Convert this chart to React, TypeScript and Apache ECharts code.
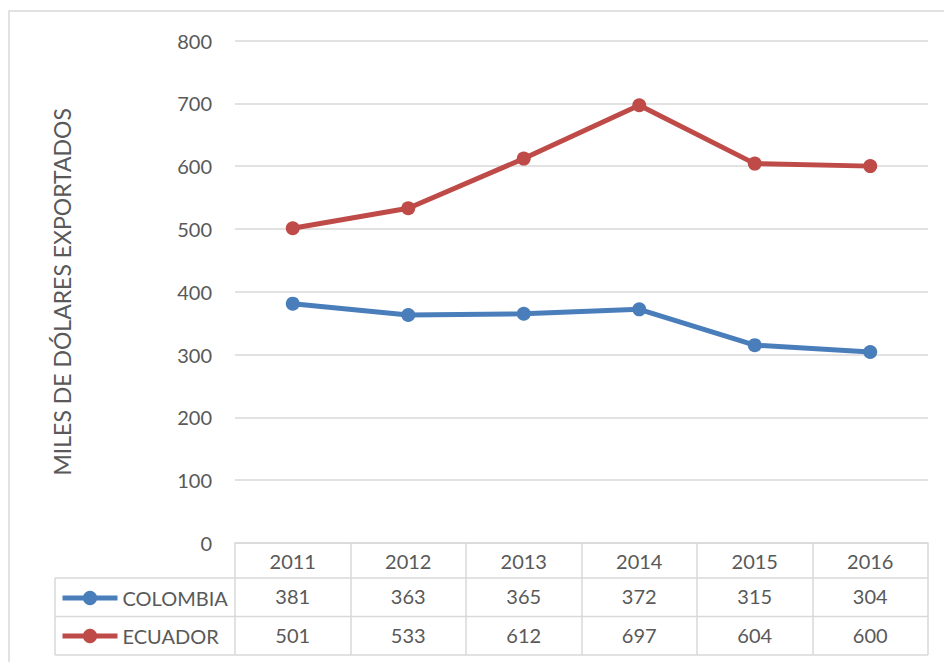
import React, { useEffect, useRef } from "react";
import * as echarts from "echarts";

const years = ["2011", "2012", "2013", "2014", "2015", "2016"];
const colombia = [381, 363, 365, 372, 315, 304];
const ecuador = [501, 533, 612, 697, 604, 600];
const yTicks = { min: 0, max: 800, interval: 100 };
const yTitle = "MILES DE DÓLARES EXPORTADOS";

const FONT = "Lato";
const TXT = "#595959";
const GRID = "#d9d9d9";
const BLUE = "#4a7ebb";
const RED = "#be4b48";

const G_LEFT = 235;
const G_RIGHT = 928;
const G_TOP = 40.5;
const G_BOTTOM = 543;
const ROW1 = 578;
const ROW2 = 616.5;
const ROW3 = 655;
const LEG_LEFT = 55;

export default function App() {
  const ref = useRef<HTMLDivElement>(null);
  useEffect(() => {
    if (!ref.current) return;
    const chart = echarts.init(ref.current, null, { renderer: "svg" });
    const labelStyle = { color: TXT, fontFamily: FONT, fontSize: 20 };
    const hl = (y: number, x1: number) => ({
      type: "line",
      shape: { x1, y1: y, x2: G_RIGHT, y2: y },
      style: { stroke: GRID, lineWidth: 1.5 },
      silent: true,
    });
    chart.setOption({
      animation: false,
      backgroundColor: "#fff",
      grid: { left: G_LEFT, right: 944 - G_RIGHT, top: G_TOP, bottom: 662 - G_BOTTOM, containLabel: false },
      legend: {
        orient: "vertical",
        left: 60,
        top: 588,
        padding: 0,
        itemGap: 18,
        itemWidth: 55,
        itemHeight: 18,
        lineStyle: { width: 5 },
        textStyle: { ...labelStyle, lineHeight: 20 },
        data: ["COLOMBIA", "ECUADOR"],
      },
      xAxis: [
        {
          type: "category",
          data: years,
          boundaryGap: true,
          axisLine: { show: true, lineStyle: { color: GRID, width: 1.5 } },
          axisTick: { show: true, interval: 0, length: ROW3 - G_BOTTOM, lineStyle: { color: GRID, width: 1.5 } },
          axisLabel: { ...labelStyle, margin: 8 },
        },
        {
          type: "category",
          position: "bottom",
          offset: ROW1 - G_BOTTOM,
          data: colombia.map(String),
          axisLine: { show: false },
          axisTick: { show: false },
          axisLabel: { ...labelStyle, margin: 8 },
        },
        {
          type: "category",
          position: "bottom",
          offset: ROW2 - G_BOTTOM,
          data: ecuador.map(String),
          axisLine: { show: false },
          axisTick: { show: false },
          axisLabel: { ...labelStyle, margin: 8 },
        },
      ],
      yAxis: {
        type: "value",
        ...yTicks,
        name: yTitle,
        nameLocation: "middle",
        nameGap: 162,
        nameTextStyle: { color: TXT, fontFamily: FONT, fontSize: 23 },
        axisLine: { show: false },
        axisTick: { show: false },
        axisLabel: { ...labelStyle, margin: 23 },
        splitLine: { lineStyle: { color: GRID, width: 1.5 } },
      },
      series: [
        {
          name: "COLOMBIA",
          type: "line",
          data: colombia,
          xAxisIndex: 0,
          color: BLUE,
          symbol: "circle",
          symbolSize: 14,
          lineStyle: { width: 5, color: BLUE },
          itemStyle: { color: BLUE },
        },
        {
          name: "ECUADOR",
          type: "line",
          data: ecuador,
          xAxisIndex: 0,
          color: RED,
          symbol: "circle",
          symbolSize: 14,
          lineStyle: { width: 5, color: RED },
          itemStyle: { color: RED },
        },
      ],
      graphic: [
        {
          type: "rect",
          shape: { x: 9, y: 11, width: 960, height: 700 },
          style: { fill: "none", stroke: GRID, lineWidth: 1.5 },
          silent: true,
        },
        hl(ROW1, LEG_LEFT),
        hl(ROW2, LEG_LEFT),
        hl(ROW3, LEG_LEFT),
        {
          type: "line",
          shape: { x1: LEG_LEFT, y1: ROW1, x2: LEG_LEFT, y2: ROW3 },
          style: { stroke: GRID, lineWidth: 1.5 },
          silent: true,
        },
      ],
    });
    return () => chart.dispose();
  }, []);
  return <div ref={ref} style={{ width: 944, height: 662, position: "absolute", left: 0, top: 0 }} />;
}
